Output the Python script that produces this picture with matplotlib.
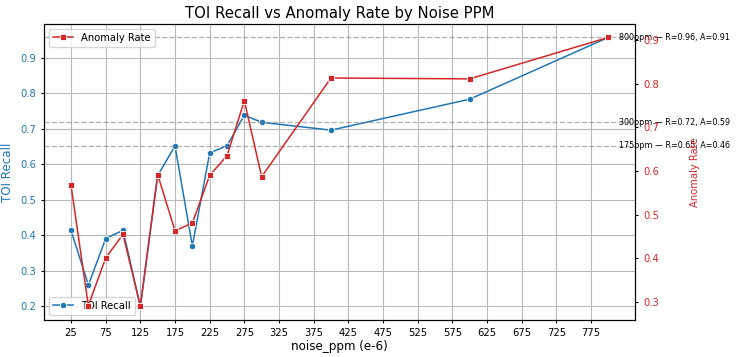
import matplotlib
matplotlib.use("Agg")
import matplotlib.pyplot as plt

# noise levels (ppm) and the two metrics
noise_ppm = [25, 50, 75, 100, 125, 150, 175, 200, 225, 250, 275, 300, 400, 600, 800]
toi_recall = [0.414, 0.260, 0.391, 0.414, 0.200, 0.568, 0.652, 0.370, 0.632,
              0.652, 0.738, 0.718, 0.696, 0.783, 0.957]
anomaly_rate = [0.567, 0.292, 0.401, 0.455, 0.290, 0.592, 0.463, 0.481, 0.590,
                0.635, 0.761, 0.587, 0.813, 0.811, 0.906]

# highlighted noise levels
marked_ppm = [800, 300, 175]

xticks = list(range(25, 800, 50))

fig, ax = plt.subplots(figsize=(7.36, 3.57), dpi=100)
fig.subplots_adjust(left=0.06, right=0.863, top=0.933, bottom=0.104)

ax.plot(noise_ppm, toi_recall, color='tab:blue', marker='o', markersize=4.6,
        markeredgecolor='white', markeredgewidth=0.6, linewidth=1.1, label='TOI Recall')
ax.set_xlabel('noise_ppm (e-6)', fontsize=8.6, labelpad=1)
ax.set_ylabel('TOI Recall', color='tab:blue', fontsize=8.6)
ax.tick_params(axis='y', labelcolor='tab:blue')
ax.tick_params(labelsize=7.2, length=2.5)
ax.set_xticks(xticks)
ax.grid(True, color='#b8b8b8', linewidth=0.8)

ax2 = ax.twinx()
ax2.plot(noise_ppm, anomaly_rate, color='tab:red', marker='s', markersize=5,
         markeredgecolor='white', markeredgewidth=0.6, linewidth=1.1, label='Anomaly Rate')
ax2.set_ylabel('Anomaly Rate', color='tab:red', fontsize=7.2, labelpad=22)
ax2.tick_params(axis='y', labelcolor='tab:red', labelsize=7.2, length=2.5)

for p in marked_ppm:
    i = noise_ppm.index(p)
    r = toi_recall[i]
    a = anomaly_rate[i]
    ax.axhline(r, color='gray', linestyle='--', linewidth=1.0, alpha=0.6)
    ax.text(max(noise_ppm) * 1.02, r, f"{p}ppm — R={r:.2f}, A={a:.2f}",
            fontsize=5.8, va='center', ha='left')

ax.legend(loc='lower left', fontsize=7.2)
ax2.legend(loc='upper left', fontsize=7.2)
ax.set_title('TOI Recall vs Anomaly Rate by Noise PPM', fontsize=10.7, pad=4)

plt.savefig('out.png')
